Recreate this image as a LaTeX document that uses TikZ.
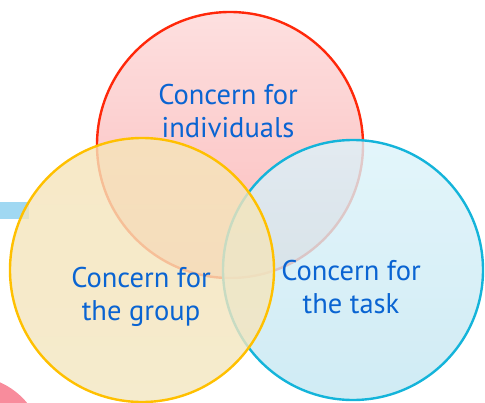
\documentclass[tikz,border=0pt]{standalone}
\usepackage{fontspec}
\setmainfont{PT Sans}
\usetikzlibrary{positioning}
\definecolor{txtblue}{RGB}{10,100,210}
\definecolor{redline}{RGB}{255,40,10}
\definecolor{redtop}{RGB}{253,220,220}
\definecolor{redbot}{RGB}{251,180,180}
\definecolor{yelline}{RGB}{255,192,0}
\definecolor{yeltop}{RGB}{245,228,185}
\definecolor{yelbot}{RGB}{243,230,192}
\definecolor{blueline}{RGB}{20,180,218}
\definecolor{bluetop}{RGB}{220,243,250}
\definecolor{bluebot}{RGB}{196,230,241}
\definecolor{barblue}{RGB}{160,216,242}
\definecolor{pinkdot}{RGB}{248,140,156}
\newcommand{\bubble}[6]{
	\begin{scope}[shift={#1}]
		\shade[top color=#3, bottom color=#4, opacity=#6] (0,0) circle (#2);
		\draw[#5, line width=2.4pt] (0,0) circle (#2);
	\end{scope}
}
\tikzset{bubbletext/.style={text=txtblue, font=\fontsize{28.5}{33}\selectfont, align=center, inner sep=0pt}}

\begin{document}
\begin{tikzpicture}[x=1pt, y=-1pt]
	%keep the frame of the reference
	\useasboundingbox (0,0) rectangle (485,402);

	%bits sticking out at the left
	\fill[barblue] (0,202) rectangle (29,219);
	\fill[pinkdot] (-30,450) circle (74);

	%the three circles, back to front
	\bubble{(230,145)}{133}{redtop}{redbot}{redline}{0.9}
	\bubble{(353,270)}{130}{bluetop}{bluebot}{blueline}{0.8}
	\bubble{(142,270)}{132}{yeltop}{yelbot}{yelline}{0.8}

	%texts
	\node[bubbletext] (indiv) at (228,111) {Concern for\\individuals};
	\node[bubbletext] (group) at (141,297) {Concern for\\the group};
	\node[bubbletext] (task) at (351,287) {Concern for\\the task};
\end{tikzpicture}
\end{document}
